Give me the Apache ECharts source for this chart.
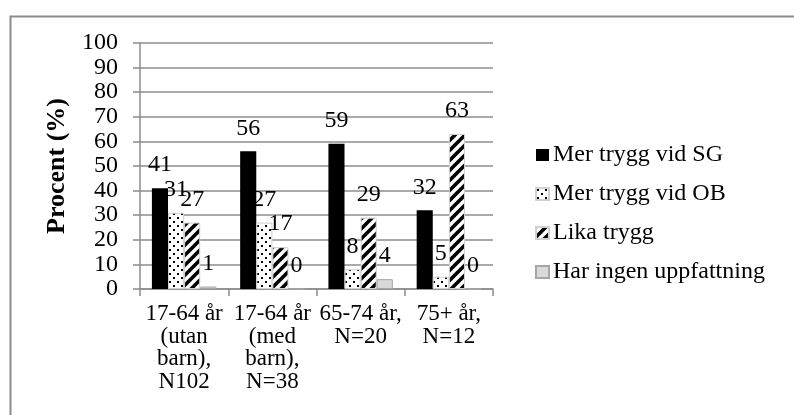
<!DOCTYPE html>
<html>
<head>
<meta charset="utf-8">
<script src="https://cdn.jsdelivr.net/npm/echarts@6/dist/echarts.min.js"></script>
<style>
  html, body { margin: 0; padding: 0; background: #fff; }
  #chart { width: 794px; height: 415px; }
</style>
</head>
<body>
<div id="chart"></div>
<script>
// Age groups on the x axis
const categories = [
  '17-64 år\n(utan\nbarn),\nN102',
  '17-64 år\n(med\nbarn),\nN=38',
  '65-74 år,\nN=20',
  '75+ år,\nN=12'
];

// Share of respondents (%) per answer
const merTryggSG = [41, 56, 59, 32];
const merTryggOB = [31, 27, 8, 5];
const likaTrygg = [27, 17, 29, 63];
const ingenUppfattning = [1, 0, 4, 0];

const seriesNames = ['Mer trygg vid SG', 'Mer trygg vid OB', 'Lika trygg', 'Har ingen uppfattning'];

// y axis ticks
const yMin = 0, yMax = 100, yStep = 10;

const FONT = '"Liberation Serif", "Times New Roman", serif';
const GRAY = '#8c8c8c';

// Fill pattern: sparse black dots on white
function dotPattern() {
  const c = document.createElement('canvas');
  c.width = 8; c.height = 8;
  const g = c.getContext('2d');
  g.fillStyle = '#fff'; g.fillRect(0, 0, 8, 8);
  g.fillStyle = '#000';
  g.fillRect(1, 1, 2, 2);
  g.fillRect(5, 5, 2, 2);
  return { image: c, repeat: 'repeat' };
}

// Fill pattern: wide black upward diagonal stripes
function stripePattern() {
  const s = 10;
  const c = document.createElement('canvas');
  c.width = s; c.height = s;
  const g = c.getContext('2d');
  g.fillStyle = '#fff'; g.fillRect(0, 0, s, s);
  g.strokeStyle = '#000';
  g.lineWidth = 3.6;
  g.lineCap = 'square';
  g.beginPath();
  g.moveTo(0, s); g.lineTo(s, 0);
  g.moveTo(-s / 2, s / 2); g.lineTo(s / 2, -s / 2);
  g.moveTo(s / 2, s * 1.5); g.lineTo(s * 1.5, s / 2);
  g.stroke();
  return { image: c, repeat: 'repeat' };
}

const styles = [
  { color: '#000000' },
  { color: dotPattern(), borderColor: '#d0d0d0', borderWidth: 1 },
  { color: stripePattern(), borderColor: '#d0d0d0', borderWidth: 1 },
  { color: '#d9d9d9', borderColor: '#a6a6a6', borderWidth: 1 }
];

const dataSets = [merTryggSG, merTryggOB, likaTrygg, ingenUppfattning];

const chart = echarts.init(document.getElementById('chart'), null, { renderer: 'canvas' });

chart.setOption({
  animation: false,
  backgroundColor: '#ffffff',
  textStyle: { fontFamily: FONT, color: '#000' },
  graphic: [{
    type: 'rect',
    left: 8, top: 14,
    shape: { width: 800, height: 420 },
    style: { fill: 'none', stroke: GRAY, lineWidth: 2 },
    silent: true
  }],
  grid: { left: 140, right: 301, top: 43, bottom: 126, containLabel: false },
  legend: {
    orient: 'vertical',
    left: 535,
    top: 143,
    padding: 0,
    itemWidth: 13,
    itemHeight: 12,
    itemGap: 15,
    icon: 'rect',
    textStyle: { fontFamily: FONT, fontSize: 24, color: '#000', lineHeight: 24, padding: [0, 0, 0, -1] },
    data: seriesNames
  },
  xAxis: {
    type: 'category',
    data: categories,
    axisLine: { lineStyle: { color: GRAY, width: 1.5 } },
    axisTick: { show: true, length: 7, lineStyle: { color: GRAY, width: 1.5 } },
    axisLabel: {
      fontFamily: FONT, fontSize: 23, lineHeight: 22.5, color: '#000',
      margin: 14, interval: 0, align: 'center'
    }
  },
  yAxis: {
    type: 'value',
    min: yMin, max: yMax, interval: yStep,
    name: 'Procent (%)',
    nameLocation: 'middle',
    nameRotate: 90,
    nameGap: 70,
    nameTextStyle: { fontFamily: FONT, fontSize: 26, fontWeight: 'bold', color: '#000' },
    axisLine: { show: true, lineStyle: { color: GRAY, width: 1.5 } },
    axisTick: { show: true, length: 7, lineStyle: { color: GRAY, width: 1.5 } },
    splitLine: { show: true, lineStyle: { color: GRAY, width: 1.5 } },
    axisLabel: {
      fontFamily: FONT, fontSize: 24, color: '#000', margin: 22,
      showMinLabel: true, showMaxLabel: true
    }
  },
  series: seriesNames.map((name, i) => ({
    name: name,
    type: 'bar',
    data: dataSets[i],
    barGap: '0%',
    barCategoryGap: '27%',
    itemStyle: styles[i],
    label: {
      show: true,
      position: 'top',
      distance: 11,
      fontFamily: FONT,
      fontSize: 24,
      color: '#000'
    }
  }))
});
</script>
</body>
</html>
